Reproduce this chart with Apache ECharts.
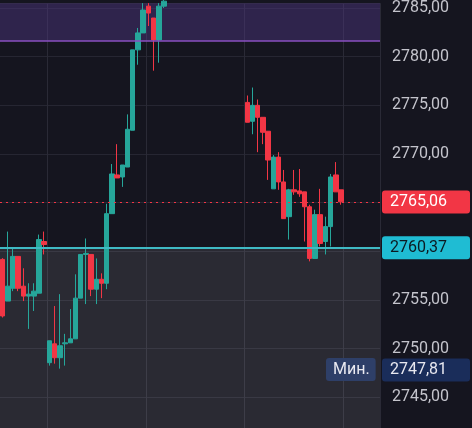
<!DOCTYPE html>
<html><head><meta charset="utf-8">
<script src="https://cdn.jsdelivr.net/npm/echarts@6/dist/echarts.min.js"></script>
<style>html,body{margin:0;padding:0;background:#15151f;overflow:hidden;height:428px}#c{width:472px;height:446px}</style>
</head><body><div id="c"></div>
<script>
// [open, close, low, high]
const leftCandles = [
[2759.17,2753.36,2753.2,2759.3],[2754.89,2756.42,2754.89,2762.03],[2756.21,2759.48,2755.91,2760.30],[2759.48,2756.21,2755.91,2759.48],
[2756.42,2755.40,2754.89,2758.26],[2755.40,2755.60,2752.03,2756.72],[2755.40,2755.91,2753.87,2756.72],[2755.70,2761.21,2755.70,2761.72],
[2761.01,2760.70,2759.68,2762.03],[2748.56,2750.81,2748.26,2750.81],[2750.50,2749.07,2748.46,2754.38],[2749.07,2750.30,2747.95,2755.60],
[2750.50,2750.60,2748.26,2751.52],[2750.60,2751.01,2750.60,2754.07],[2751.01,2755.19,2751.01,2757.64],[2755.19,2759.68,2755.19,2759.68],
[2759.68,2759.79,2754.58,2761.32],[2759.68,2756.11,2755.40,2759.68],[2756.11,2757.13,2754.58,2759.27],[2757.13,2756.72,2755.19,2757.74],
[2756.72,2763.87,2756.11,2764.89],[2763.87,2767.95,2763.87,2768.97],[2767.85,2767.54,2767.54,2771.01],[2767.64,2768.87,2766.62,2768.87],
[2768.66,2772.54,2768.66,2774.07],[2772.44,2780.70,2772.44,2780.70],[2780.70,2782.44,2779.17,2782.95],[2782.44,2784.79,2782.44,2785.5],
[2785.19,2784.48,2783.15,2785.5],[2783.97,2781.72,2778.56,2783.97],[2781.72,2785.19,2779.38,2785.5],[2785.19,2785.7,2785.0,2786.0]
];
const gapCount = 15;
const rightCandles = [
[2775.30,2773.26,2773.26,2776.01],[2773.36,2775.00,2772.03,2776.83],[2775.00,2773.77,2770.19,2775.60],[2773.77,2772.23,2771.01,2773.77],
[2772.34,2769.38,2767.34,2772.34],[2766.42,2769.68,2766.42,2769.89],[2769.68,2767.13,2766.32,2770.19],[2767.13,2763.36,2763.36,2768.36],
[2763.56,2766.32,2761.21,2766.42],[2766.32,2766.11,2765.81,2768.36],[2766.21,2765.91,2765.60,2768.46],[2766.11,2764.58,2761.01,2766.11],
[2764.58,2759.27,2758.97,2764.79],[2759.27,2763.77,2759.27,2764.28],[2763.77,2760.81,2760.50,2766.42],[2761.01,2762.54,2759.68,2763.56],
[2762.54,2767.64,2760.50,2767.95],[2767.85,2766.11,2766.11,2769.17],[2766.32,2765.09,2764.79,2766.32]
];
const tailCount = 7;
const lastPrice = 2765.06, levelPrice = 2760.37, minPrice = 2747.81, zoneTop = 2781.6;

const data = [...leftCandles, ...Array(gapCount).fill('-'), ...rightCandles, ...Array(tailCount).fill('-')];
const cats = data.map((d,i)=>i);
const fmt = v => v.toFixed(2).replace('.', ',');
const chart = echarts.init(document.getElementById('c'));
const boxLabel = (bg, col) => ({show:true, position:'end', distance:2, formatter:p=>fmt(p.value),
  backgroundColor:bg, color:col, fontSize:16, fontFamily:'Roboto', padding:[4,6,3,8], borderRadius:3, width:74, align:'left'});
chart.setOption({
  backgroundColor:'#15151f',
  animation:false,
  grid:{left:0,right:92,top:0,bottom:0},
  xAxis:{type:'category',data:cats,axisLine:{show:false},axisTick:{show:false},axisLabel:{show:false},
    splitLine:{show:true,interval:(i)=>i%19===9,lineStyle:{color:'#2a2a36'}}},
  yAxis:{type:'value',position:'right',min:2740,max:2785.5,interval:5,
    axisLine:{show:false},axisTick:{show:false},
    axisLabel:{showMaxLabel:false,showMinLabel:false,color:'#c4c4cc',fontSize:16,fontFamily:'Roboto',margin:12,formatter:v=>fmt(v)},
    splitLine:{lineStyle:{color:'#262632'}}},
  series:[{type:'candlestick',data:data,barWidth:5,
    itemStyle:{color:'#26a69a',color0:'#f23645',borderColor:'#26a69a',borderColor0:'#f23645',borderWidth:1},
    markArea:{silent:true,data:[
      [{yAxis:zoneTop,itemStyle:{color:'rgba(80,55,130,0.45)'}},{yAxis:2785.5}],
      [{yAxis:levelPrice,itemStyle:{color:'rgba(255,255,255,0.09)'}},{yAxis:2740}]
    ]},
    markLine:{silent:true,symbol:'none',data:[
      {yAxis:zoneTop,lineStyle:{color:'#8a4fc0',type:'solid',width:1.5},label:{show:false}},
      {yAxis:lastPrice,lineStyle:{color:'#f23645',type:[2,4],width:1},label:boxLabel('#f23645','#ffffff')},
      {yAxis:levelPrice,lineStyle:{color:'#3fb9c4',type:'solid',width:2},label:boxLabel('#1fbcd3','#0c1a22')},
      {yAxis:minPrice,lineStyle:{color:'rgba(0,0,0,0)',width:0.1},label:boxLabel('#1a2d5a','#e8e8f0')}
    ]}
  }]
});
const yMin = chart.convertToPixel({yAxisIndex:0}, minPrice);
chart.setOption({graphic:[{type:'text',left:326,top:yMin-12,
  style:{text:'Мин.',fill:'#e8e8f0',font:'16px Roboto',backgroundColor:'#1a2d5a',padding:[4,6,3,7],borderRadius:3}}]});
</script></body></html>
